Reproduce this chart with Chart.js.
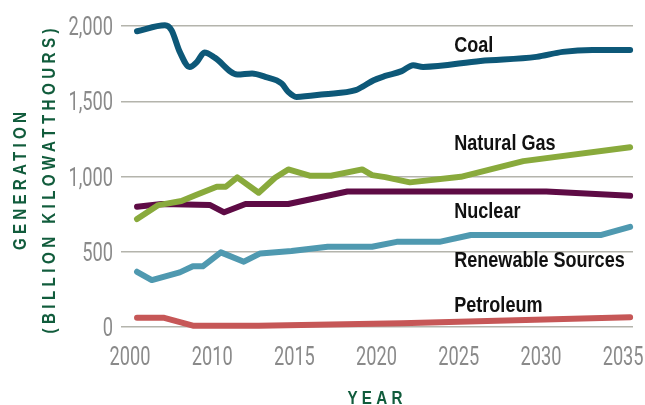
<!DOCTYPE html>
<html>
<head>
<meta charset="utf-8">
<title>Electricity generation by fuel</title>
<script src="https://cdn.jsdelivr.net/npm/chart.js@4.4.0/dist/chart.umd.min.js"></script>
<style>
    html, body { margin: 0; padding: 0; background: #fff; }
    #wrap { width: 645px; height: 405px; position: relative; }
</style>
</head>
<body>
<div id="wrap"><canvas id="genChart"></canvas></div>
<script>
// Values. Years follow the printed axis, where the
// first step (2000-2010) is drawn as wide as each later five-year step.
var tickYears = [2000, 2010, 2015, 2020, 2025, 2030, 2035];

var seriesNames = ['Coal', 'Natural Gas', 'Nuclear', 'Renewable Sources', 'Petroleum'];

var coalYears  = [2000, 2003.4, 2004.2, 2005.2, 2006.4, 2007.3, 2008.2, 2009.5, 2011.1, 2012, 2012.8, 2013.8, 2014.2, 2014.7, 2016.4, 2018.3, 2018.7, 2019.4, 2020.1, 2021.1, 2021.8, 2022.4, 2025.9, 2029.3, 2030.9, 2032.7, 2035];
var coalValues = [1965, 2005, 1972, 1828, 1728, 1762, 1824, 1788, 1678, 1685, 1662, 1618, 1562, 1529, 1547, 1574, 1596, 1640, 1668, 1700, 1740, 1728, 1768, 1795, 1828, 1841, 1840];

var gasYears  = [2000, 2002.6, 2005.4, 2007.1, 2009.7, 2010.4, 2011.1, 2012.4, 2013.4, 2014.2, 2015.5, 2016.8, 2018.7, 2019.3, 2020.1, 2021.6, 2024.7, 2028.5, 2035];
var gasValues = [717, 810, 837, 876, 932, 932, 994, 892, 992, 1047, 1005, 1005, 1047, 1009, 996, 961, 998, 1102, 1195];

var nuclearYears  = [2000, 2003, 2008.9, 2010.3, 2011.6, 2014.2, 2017.8, 2029.9, 2035];
var nuclearValues = [799, 817, 810, 762, 817, 817, 900, 900, 872];

var renewYears  = [2000, 2001.8, 2005.2, 2006.8, 2008, 2010.1, 2011.5, 2012.5, 2014.4, 2016.6, 2019.3, 2020.8, 2023.4, 2025.3, 2033.2, 2035];
var renewValues = [367, 312, 363, 403, 403, 496, 434, 489, 505, 533, 533, 566, 566, 611, 611, 666];

var petroYears  = [2000, 2003.2, 2006.8, 2012.4, 2021.1, 2035];
var petroValues = [62, 62, 9, 9, 25, 64];

// no condensed face is installed, so text is squeezed horizontally when drawn
var TICK_FONT = "'Roboto', 'Liberation Sans', sans-serif";
var LABEL_FONT = "'Liberation Sans', 'Roboto', sans-serif";

// position on the drawn axis: 0 = 2000, 1 = 2010, then one unit per 5 years
function axisPos(year) {
    if (year <= 2010) return (year - 2000) / 10;
    return 1 + (year - 2010) / 5;
}

function toPoints(years, values) {
    var pts = [];
    for (var i = 0; i < years.length; i++) {
        pts.push({ x: axisPos(years[i]), y: values[i] });
    }
    return pts;
}

function lineSet(label, years, values, color, smooth) {
    return {
        label: label,
        data: toPoints(years, values),
        borderColor: color,
        backgroundColor: color,
        borderWidth: 6,
        pointRadius: 0,
        pointHoverRadius: 0,
        borderCapStyle: 'round',
        borderJoinStyle: 'round',
        cubicInterpolationMode: smooth ? 'monotone' : 'default',
        tension: 0,
        clip: false,
        fill: false
    };
}

function narrowText(ctx, text, x, y, sx, align, spacing) {
    ctx.save();
    ctx.translate(x, y);
    ctx.scale(sx, 1);
    ctx.textAlign = align;
    if (spacing) {
        ctx.letterSpacing = (spacing / sx) + 'px';
        // trailing spacing would push centred text to the left
        if (align === 'center') ctx.translate(spacing / sx / 2, 0);
    }
    ctx.fillText(text, 0, 0);
    ctx.restore();
}

// tick labels, series names, axis titles
var annotatePlugin = {
    id: 'annotate',
    afterDatasetsDraw: function(chart, args, opts) {
        var ctx = chart.ctx;
        var xs = chart.scales.x;
        var ys = chart.scales.y;
        var area = chart.chartArea;
        ctx.save();
        ctx.textBaseline = 'alphabetic';

        // y ticks
        ctx.fillStyle = '#8a8a8a';
        ctx.font = '25px ' + TICK_FONT;
        ys.ticks.forEach(function(t) {
            narrowText(ctx, t.value.toLocaleString('en-US'), area.left - 8,
                ys.getPixelForValue(t.value) + 9, 0.73, 'right');
        });

        // x ticks
        ctx.font = '26px ' + TICK_FONT;
        tickYears.forEach(function(y, i) {
            narrowText(ctx, String(y), xs.getPixelForValue(i) - 7, area.bottom + 38, 0.7, 'center');
        });

        // series names
        ctx.font = 'bold 22px ' + LABEL_FONT;
        ctx.fillStyle = '#111111';
        var lx = xs.getPixelForValue(axisPos(opts.labelYear));
        for (var i = 0; i < seriesNames.length; i++) {
            narrowText(ctx, seriesNames[i], lx, ys.getPixelForValue(opts.labelAt[i]), 0.82, 'left');
        }

        // axis titles
        ctx.fillStyle = '#115c3c';
        ctx.font = 'bold 19px ' + LABEL_FONT;
        narrowText(ctx, 'YEAR', 375, 404, 0.8, 'center', 4.3);

        ctx.save();
        ctx.translate(0, 181);
        ctx.rotate(-Math.PI / 2);
        narrowText(ctx, 'GENERATION', 0, 26, 0.8, 'center', 4.2);
        narrowText(ctx, '(BILLION KILOWATTHOURS)', 0, 55, 0.8, 'center', 4.4);
        ctx.restore();

        ctx.restore();
    }
};

function initChart() {
    var canvas = document.getElementById('genChart');
    if (!canvas) return;

    new Chart(canvas.getContext('2d'), {
        type: 'line',
        data: {
            datasets: [
                lineSet('Coal', coalYears, coalValues, '#0d5878', true),
                lineSet('Natural Gas', gasYears, gasValues, '#89aa3c', false),
                lineSet('Nuclear', nuclearYears, nuclearValues, '#5e0b45', false),
                lineSet('Renewable Sources', renewYears, renewValues, '#4f99b0', false),
                lineSet('Petroleum', petroYears, petroValues, '#c65757', false)
            ]
        },
        options: {
            responsive: true,
            maintainAspectRatio: false,
            animation: false,
            layout: { padding: { top: 26, right: 12, left: 0, bottom: 0 } },
            plugins: {
                legend: { display: false },
                tooltip: { enabled: false },
                annotate: {
                    labelYear: 2024.3,
                    labelAt: [1826, 1175, 722, 400, 101]
                }
            },
            scales: {
                x: {
                    type: 'linear',
                    min: -0.195,
                    max: 6.035,
                    afterBuildTicks: function(scale) {
                        scale.ticks = tickYears.map(function(y, i) { return { value: i }; });
                    },
                    afterFit: function(scale) { scale.height = 78; },
                    grid: { display: false },
                    border: { display: false },
                    ticks: { display: false }
                },
                y: {
                    min: 0,
                    max: 2000,
                    afterFit: function(scale) { scale.width = 121; },
                    grid: { color: '#b4b4ac', lineWidth: 1.5, drawTicks: false },
                    border: { display: false },
                    ticks: { display: false, stepSize: 500 }
                }
            }
        },
        plugins: [annotatePlugin]
    });
}

if (document.readyState === 'loading') {
    document.addEventListener('DOMContentLoaded', initChart);
} else {
    initChart();
}
</script>
</body>
</html>
